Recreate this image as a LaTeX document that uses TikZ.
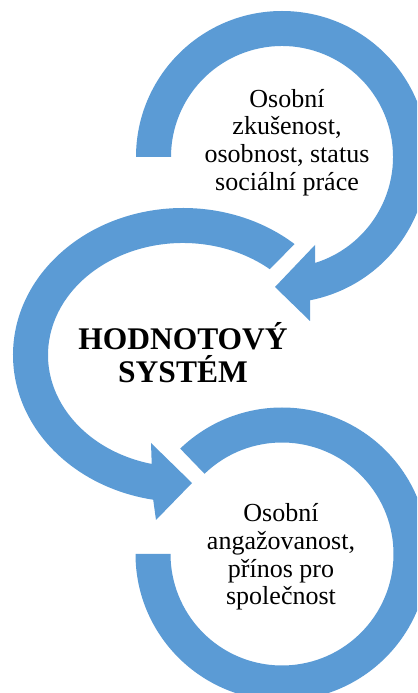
\documentclass[tikz,border=0pt]{standalone}
\usepackage{fontspec}
\setmainfont{Liberation Serif}
\definecolor{ringblue}{RGB}{91,155,213}
\tikzset{ring/.style={fill=ringblue,draw=none},
  side text/.style={align=center,inner sep=0pt,font=\fontsize{18.5}{19.7}\selectfont},
  core text/.style={align=center,inner sep=0pt,font=\bfseries\fontsize{22.4}{23.5}\selectfont}}

\begin{document}
\begin{tikzpicture}[x=0.025cm,y=0.025cm]
  \useasboundingbox (0,0) rectangle (417,693);
  \clip (0,0) rectangle (417,693);
  \begin{scope}[shift={(282,536)}]
   \fill[ring] (180:146) arc[start angle=180,end angle=-78.9,radius=146]
    -- (28,-164) -- (-7,-130) -- (33,-88)
    -- (-72.7:111) arc[start angle=-72.7,end angle=180,radius=111] -- cycle;
   \node[side text] (zkusenost) at (5,14.5) {Osobní\\zkušenost,\\osobnost, status\\sociální práce};
  \end{scope}
  \begin{scope}[shift={(183,338)}]
   \fill[ring] (49:170 and 147) arc[start angle=49,end angle=259.9,x radius=170,y radius=147]
    -- (-27,-165) -- (9,-128) -- (-32,-88)
    -- (256.6:135 and 112) arc[start angle=256.6,end angle=50,x radius=135,y radius=112] -- cycle;
   \node[core text] (hodnoty) at (0,2.5) {HODNOTOVÝ\\SYSTÉM};
  \end{scope}
  \begin{scope}[shift={(282,139)}]
   \fill[ring] (180:146.5) arc[start angle=180,end angle=494,radius=146.5]
    -- (494:111.5) arc[start angle=494,end angle=180,radius=111.5] -- cycle;
   \node[side text] (prinos) at (-1,-3) {Osobní\\angažovanost,\\přínos pro\\společnost};
  \end{scope}
\end{tikzpicture}
\end{document}
